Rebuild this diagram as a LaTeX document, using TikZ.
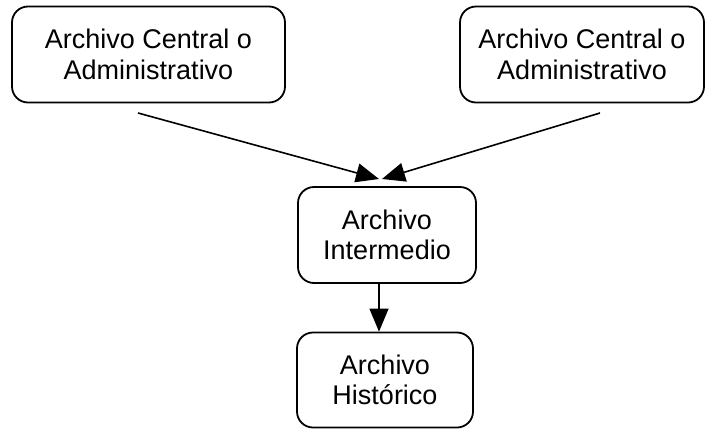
\documentclass[tikz,border=0pt]{standalone}
\usepackage{fontspec}
\setmainfont{Liberation Sans}
\usetikzlibrary{arrows.meta}
\tikzset{archivo/.style={rectangle, draw, rounded corners=16pt, line width=1.8pt, align=center, inner sep=+0pt, font=\fontsize{27}{30.5}\selectfont}}
\tikzset{flecha/.style={-{Triangle[length=23pt,width=19pt]}, line width=1.6pt}}

\begin{document}
\begin{tikzpicture}[x=1pt,y=-1pt]
    \useasboundingbox (0,0) rectangle (709,429);

    \node[archivo,minimum width=273pt,minimum height=96pt] (central1) at (148.5,54.5) {Archivo Central o\\Administrativo};
    \node[archivo,minimum width=244pt,minimum height=96pt] (central2) at (582,54.5) {Archivo Central o\\Administrativo};
    \node[archivo,minimum width=178pt,minimum height=96pt] (intermedio) at (387,235) {Archivo\\Intermedio};
    \node[archivo,minimum width=176pt,minimum height=95pt] (historico) at (385,380) {Archivo\\Histórico};

    \coordinate (desde1) at (138,113);
    \coordinate (desde2) at (600,113);
    \coordinate (hasta1) at (379,179);
    \coordinate (hasta2) at (382,179);
    \coordinate (bajada) at (379,0);

    \draw[flecha] (desde1) -- (hasta1);
    \draw[flecha] (desde2) -- (hasta2);
    \draw[flecha] (intermedio.south -| bajada) -- (historico.north -| bajada);

\end{tikzpicture}
\end{document}
